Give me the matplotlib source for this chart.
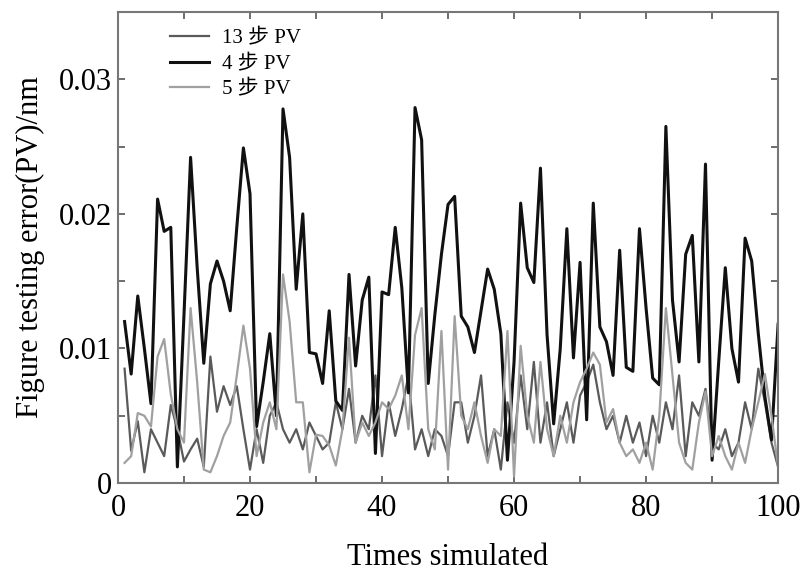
import numpy as np
import matplotlib.pyplot as plt
from matplotlib.ticker import MultipleLocator, FixedLocator

# simulation index
runs = np.arange(1, 101)

# 4-step PV (dark, highest curve)
pv_4 = [0.0120, 0.0081, 0.0139, 0.0100, 0.0059, 0.0211, 0.0187, 0.0190, 0.0012, 0.0125,
        0.0242, 0.0160, 0.0089, 0.0148, 0.0165, 0.0150, 0.0128, 0.0190, 0.0249, 0.0215,
        0.0042, 0.0075, 0.0111, 0.0050, 0.0278, 0.0242, 0.0144, 0.0200, 0.0097, 0.0096,
        0.0074, 0.0128, 0.0061, 0.0054, 0.0155, 0.0087, 0.0136, 0.0153, 0.0022, 0.0142,
        0.0140, 0.0190, 0.0145, 0.0067, 0.0279, 0.0255, 0.0074, 0.0125, 0.0170, 0.0207,
        0.0213, 0.0124, 0.0116, 0.0097, 0.0128, 0.0159, 0.0144, 0.0111, 0.0017, 0.0090,
        0.0208, 0.0160, 0.0149, 0.0234, 0.0110, 0.0044, 0.0100, 0.0189, 0.0093, 0.0164,
        0.0047, 0.0208, 0.0116, 0.0105, 0.0080, 0.0173, 0.0086, 0.0083, 0.0189, 0.0130,
        0.0078, 0.0073, 0.0265, 0.0136, 0.0090, 0.0170, 0.0184, 0.0090, 0.0237, 0.0017,
        0.0090, 0.0160, 0.0100, 0.0075, 0.0182, 0.0165, 0.0111, 0.0064, 0.0032, 0.0118]

# 13-step PV (medium grey)
pv_13 = [0.0085, 0.0024, 0.0046, 0.0008, 0.0040, 0.0030, 0.0020, 0.0058, 0.0040, 0.0016,
         0.0025, 0.0033, 0.0012, 0.0094, 0.0053, 0.0072, 0.0058, 0.0072, 0.0040, 0.0010,
         0.0040, 0.0015, 0.0050, 0.0060, 0.0040, 0.0030, 0.0040, 0.0025, 0.0045, 0.0035,
         0.0025, 0.0030, 0.0060, 0.0040, 0.0070, 0.0030, 0.0050, 0.0040, 0.0080, 0.0020,
         0.0060, 0.0035, 0.0055, 0.0080, 0.0025, 0.0040, 0.0020, 0.0040, 0.0035, 0.0020,
         0.0060, 0.0060, 0.0030, 0.0050, 0.0080, 0.0020, 0.0040, 0.0010, 0.0060, 0.0030,
         0.0080, 0.0040, 0.0090, 0.0030, 0.0060, 0.0020, 0.0040, 0.0060, 0.0030, 0.0065,
         0.0075, 0.0088, 0.0060, 0.0040, 0.0050, 0.0030, 0.0050, 0.0030, 0.0045, 0.0020,
         0.0050, 0.0030, 0.0060, 0.0040, 0.0080, 0.0020, 0.0060, 0.0050, 0.0070, 0.0030,
         0.0025, 0.0040, 0.0020, 0.0030, 0.0060, 0.0040, 0.0085, 0.0060, 0.0030, 0.0012]

# 5-step PV (light grey)
pv_5 = [0.0015, 0.0020, 0.0052, 0.0050, 0.0042, 0.0094, 0.0107, 0.0066, 0.0040, 0.0030,
        0.0130, 0.0075, 0.0010, 0.0008, 0.0020, 0.0035, 0.0045, 0.0080, 0.0117, 0.0085,
        0.0020, 0.0045, 0.0060, 0.0040, 0.0155, 0.0120, 0.0060, 0.0060, 0.0008, 0.0036,
        0.0035, 0.0028, 0.0013, 0.0040, 0.0108, 0.0030, 0.0045, 0.0035, 0.0045, 0.0060,
        0.0055, 0.0065, 0.0080, 0.0040, 0.0110, 0.0130, 0.0040, 0.0025, 0.0113, 0.0010,
        0.0124, 0.0050, 0.0040, 0.0060, 0.0035, 0.0015, 0.0040, 0.0035, 0.0113, 0.0005,
        0.0102, 0.0050, 0.0030, 0.0090, 0.0040, 0.0020, 0.0050, 0.0030, 0.0060, 0.0075,
        0.0085, 0.0097, 0.0088, 0.0045, 0.0055, 0.0030, 0.0020, 0.0025, 0.0015, 0.0030,
        0.0010, 0.0050, 0.0130, 0.0080, 0.0030, 0.0015, 0.0010, 0.0045, 0.0068, 0.0020,
        0.0035, 0.0020, 0.0010, 0.0030, 0.0015, 0.0040, 0.0060, 0.0081, 0.0050, 0.0012]

x_labels = ['0', '20', '40', '60', '80', '100']
y_labels = ['0', '0.01', '0.02', '0.03']

plt.rcParams['font.family'] = ['Liberation Serif', 'Noto Sans CJK SC']

fig = plt.figure(figsize=(8.08, 5.71), dpi=100)
ax = fig.add_axes([0.146, 0.154, 0.817, 0.825])

ax.plot(runs, pv_13, color='#5a5a5a', lw=1.6, label='13 步 PV')
ax.plot(runs, pv_4, color='#111111', lw=2.2, label='4 步 PV')
ax.plot(runs, pv_5, color='#a0a0a0', lw=1.6, label='5 步 PV')

ax.set_xlim(0, 100)
ax.set_ylim(0, 0.035)

ax.xaxis.set_major_locator(FixedLocator([0, 20, 40, 60, 80, 100]))
ax.set_xticklabels(x_labels)
ax.xaxis.set_minor_locator(MultipleLocator(10))
ax.yaxis.set_major_locator(FixedLocator([0, 0.01, 0.02, 0.03]))
ax.set_yticklabels(y_labels)
ax.yaxis.set_minor_locator(MultipleLocator(0.005))

ax.tick_params(which='both', direction='in', top=True, right=True,
               length=5, width=1.2, color='#555555', labelsize=22)
ax.tick_params(axis='y', pad=4)
ax.tick_params(axis='x', pad=8)
for s in ax.spines.values():
    s.set_color('#777777')
    s.set_linewidth(1.5)

ax.set_xlabel('Times simulated', fontsize=22, labelpad=14)
ax.set_ylabel('Figure testing error(PV)/nm', fontsize=22, labelpad=10)

ax.legend(loc='upper left', bbox_to_anchor=(0.05, 1.005), frameon=False,
          fontsize=15, handlelength=1.9, labelspacing=0.3, handletextpad=0.6)

fig.savefig('out.png', dpi=100)
